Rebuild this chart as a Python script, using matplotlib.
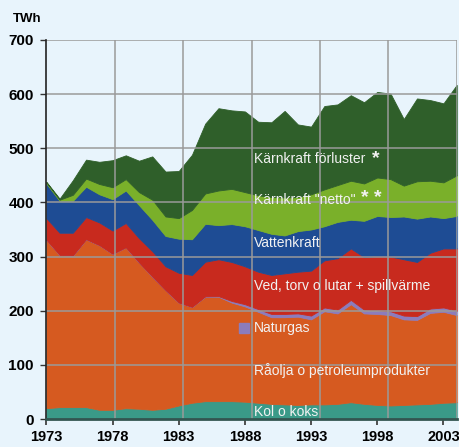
# Stacked area chart of Swedish total energy supply 1973-2004 (TWh)

import numpy as np
import matplotlib
matplotlib.use('Agg')
import matplotlib.pyplot as plt


years = list(range(1973, 2005))

kol = [20, 22, 22, 22, 17, 17, 20, 19, 17, 19, 25, 30, 33, 33, 33, 32,
       30, 28, 27, 26, 27, 27, 28, 31, 28, 26, 25, 26, 27, 28, 30, 31]
olja = [311, 281, 280, 310, 304, 288, 297, 270, 246, 219, 190, 177, 193, 193, 182, 176,
        168, 160, 161, 163, 157, 172, 167, 181, 167, 168, 167, 158, 156, 168, 168, 161]
naturgas = [0, 0, 0, 0, 0, 0, 0, 0, 0, 0, 0, 0, 0.5, 1, 3, 4,
            5, 6, 6, 6, 7, 7, 7, 8, 7, 7, 7, 7, 7, 8, 8, 8]
ved = [40, 41, 42, 41, 42, 43, 45, 45, 47, 44, 55, 59, 64, 68, 72, 70,
       69, 72, 75, 77, 83, 87, 95, 95, 97, 100, 101, 104, 100, 103, 109, 115]
vatten = [64, 59, 59, 56, 52, 58, 60, 61, 58, 56, 63, 66, 70, 63, 70, 74,
          77, 76, 70, 75, 76, 63, 67, 53, 67, 74, 73, 79, 80, 67, 56, 60]
karn_netto = [2, 2, 11, 15, 19, 22, 21, 24, 37, 36, 38, 54, 56, 64, 65, 63,
              64, 68, 70, 63, 65, 68, 68, 72, 69, 71, 70, 57, 69, 66, 66, 75]
karn_forlust = [1, 2, 27, 35, 41, 50, 44, 58, 80, 83, 87, 102, 129, 152, 145, 149,
                136, 138, 160, 134, 125, 154, 149, 158, 150, 158, 158, 123, 153, 149, 146, 167]

series_labels = ['Kol o koks', 'Råolja o petroleumprodukter', 'Naturgas',
                 'Ved, torv o lutar + spillvärme', 'Vattenkraft',
                 'Kärnkraft "netto"', 'Kärnkraft förluster']
colors = ['#3a9a88', '#d65a20', '#8c7cbc', '#c82a1e', '#1e4c94', '#7ab02a', '#2f5f2a']

xtick_years = [1973, 1978, 1983, 1988, 1993, 1998, 2003]
ytick_values = [0, 100, 200, 300, 400, 500, 600, 700]

BG = '#e8f4fc'
TEXT_COLOR = '#f2f2f2'

plt.rcParams['font.family'] = ['Liberation Sans', 'DejaVu Sans']


def draw_chart():
    fig = plt.figure(figsize=(4.59, 4.47), dpi=100, facecolor=BG)
    ax = fig.add_axes([0.101, 0.0626, 0.894, 0.848])
    ax.set_facecolor(BG)

    polys = ax.stackplot(years, kol, olja, naturgas, ved, vatten, karn_netto, karn_forlust,
                         colors=colors, labels=series_labels)
    for p, c in zip(polys, colors):
        p.set_edgecolor(c)
        p.set_linewidth(0.6)

    ax.set_xlim(years[0], years[-1])
    ax.set_ylim(0, 700)

    # grid on top of the areas, vertical lines split x range in 6
    for v in ytick_values[1:]:
        ax.axhline(v, color='#9a9a9a', lw=1.1, zorder=5)
    span = years[-1] - years[0]
    for k in range(1, 7):
        ax.axvline(years[0] + k * span / 6.0, color='#9a9a9a', lw=1.1, zorder=5)

    ax.set_yticks(ytick_values)
    ax.set_yticklabels([str(v) for v in ytick_values], fontsize=11, fontweight='bold')
    ax.set_xticks(xtick_years)
    ax.set_xticklabels([str(y) for y in xtick_years], fontsize=10.5, fontweight='bold')
    ax.tick_params(axis='y', length=4, width=1, color='#333333', pad=5)
    ax.tick_params(axis='x', direction='out', length=4, width=1.2, color='#333333', pad=4)

    for s in ['top', 'right']:
        ax.spines[s].set_visible(False)
    ax.spines['left'].set_color('#222222')
    ax.spines['left'].set_linewidth(1.2)
    ax.spines['bottom'].set_color('#335550')
    ax.spines['bottom'].set_linewidth(2)
    ax.spines['left'].set_zorder(6)
    ax.spines['bottom'].set_zorder(6)

    fig.text(0.027, 0.957, 'TWh', fontsize=9.5, fontweight='bold', va='center')

    # series labels written inside the areas
    lx = 0.506
    label_pos = [('Kärnkraft förluster', 0.685), ('Kärnkraft "netto"', 0.578),
                 ('Vattenkraft', 0.4636), ('Ved, torv o lutar + spillvärme', 0.351),
                 ('Naturgas', 0.2393), ('Råolja o petroleumprodukter', 0.1274),
                 ('Kol o koks', 0.0177)]
    for txt, ly in label_pos:
        ax.text(lx, ly, txt, transform=ax.transAxes, color=TEXT_COLOR, fontsize=10,
                va='center', ha='left', zorder=7)
    ax.text(0.803, 0.688, '*', transform=ax.transAxes, color=TEXT_COLOR, fontsize=14,
            fontweight='bold', va='center', ha='center', zorder=7)
    ax.text(0.793, 0.581, '* *', transform=ax.transAxes, color=TEXT_COLOR, fontsize=14,
            fontweight='bold', va='center', ha='center', zorder=7)
    ax.plot([0.481], [0.2393], marker='s', markersize=7, color=colors[2],
            transform=ax.transAxes, zorder=7, clip_on=False)

    fig.savefig('out.png', dpi=100, facecolor=BG)


if __name__ == '__main__':
    draw_chart()
